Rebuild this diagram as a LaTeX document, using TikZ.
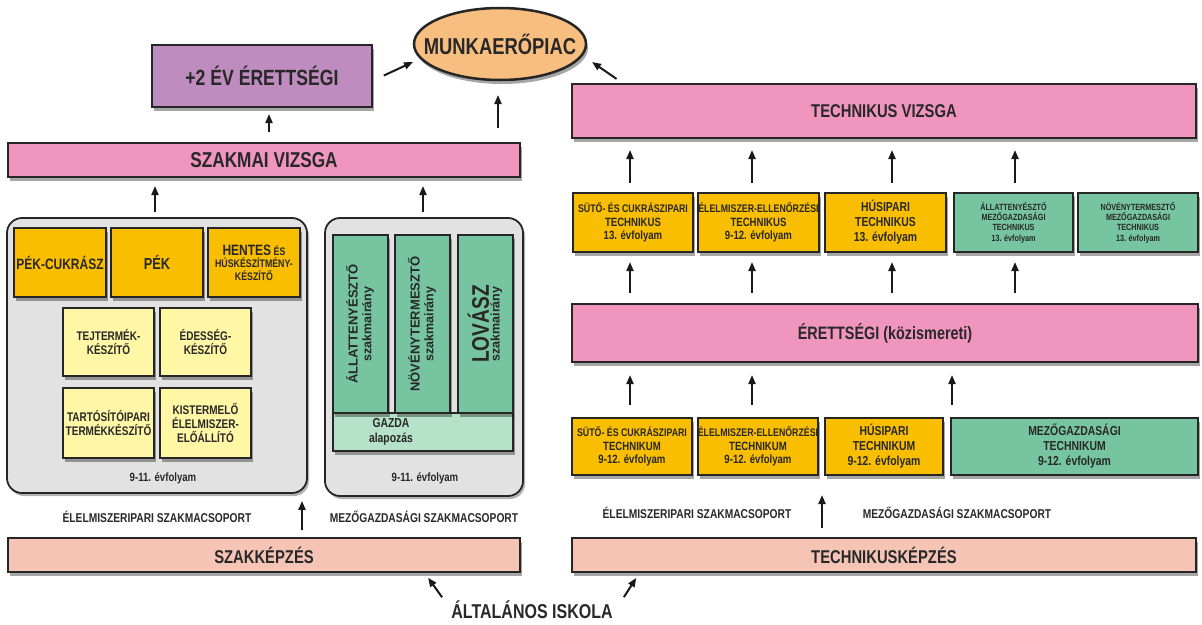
\documentclass[tikz,border=0pt]{standalone}
\usepackage{fontspec}
\usepackage{graphicx}
\setmainfont{Liberation Sans}[FakeStretch=0.8]
\newfontfamily\widef{Liberation Sans}
\usetikzlibrary{shadows,arrows.meta,shapes.geometric}
\definecolor{pinkc}{RGB}{240,150,190}
\definecolor{purplec}{RGB}{190,140,190}
\definecolor{orangec}{RGB}{248,190,128}
\definecolor{goldc}{RGB}{250,190,0}
\definecolor{lyellow}{RGB}{255,247,165}
\definecolor{greenc}{RGB}{118,196,160}
\definecolor{lgreen}{RGB}{182,226,202}
\definecolor{groupgray}{RGB}{226,226,226}
\definecolor{salmonc}{RGB}{245,196,180}
\definecolor{txt}{RGB}{40,40,40}
\newcommand\fs[1]{\fontsize{#1}{#1}\selectfont\baselineskip=1.15\baselineskip}
\newcommand\bxx[7]{\node[#1, minimum width={(#5-#3)*1pt}, minimum height={(#6-#4)*1pt}] (#2) at ({(#3+#5)/2},{(#4+#6)/2}) {#7};}
\tikzset{
  box/.style={draw=black!85, line width=2.5pt, align=center, inner sep=0pt, outer sep=0pt,
    text=txt, font=\bfseries,
    drop shadow={shadow xshift=2pt, shadow yshift=-4pt, fill=black, opacity=0.35}},
  grp/.style={draw=black!85, line width=1.8pt, rounded corners=15pt, fill=groupgray, inner sep=0pt,
    drop shadow={shadow xshift=2pt, shadow yshift=-3pt, fill=black, opacity=0.3}},
  arr/.style={line width=2pt, -{Triangle[length=9pt,width=7pt]}, black!90},
  lbl/.style={font=\bfseries, text=txt, inner sep=0pt, align=center}
}
\begin{document}
\begin{tikzpicture}[x=1pt,y=-1pt]
\useasboundingbox (0,0) rectangle (1202,624);
% top
\node[box, ellipse, fill=orangec, minimum width=172pt, minimum height=72pt, font=\bfseries\fs{23}] (munka) at (500,44) {\makebox[0pt]{MUNKAERŐPIAC}};
\bxx{box, fill=purplec, font=\bfseries\fs{22}}{plus2}{152}{45}{372}{107}{+2 ÉV ÉRETTSÉGI}
\bxx{box, fill=pinkc, font=\bfseries\fs{21.5}}{szakv}{8}{143}{520}{177}{SZAKMAI VIZSGA}
\bxx{box, fill=pinkc, font=\bfseries\fs{18.5}}{techv}{572}{84}{1196}{138}{TECHNIKUS VIZSGA}
\coordinate (mL) at (413,62);
\coordinate (mR) at (592,62);
% left group
\bxx{grp}{gleft}{7}{218}{307}{493}{}
\bxx{box, fill=goldc, font=\bfseries\fs{15}}{pekc}{14}{228}{106}{297}{PÉK-CUKRÁSZ}
\bxx{box, fill=goldc, font=\bfseries\fs{16}}{pek}{111}{228}{203}{297}{PÉK}
\bxx{box, fill=goldc, font=\bfseries\fs{11}}{hentes}{208}{228}{300}{297}{{\fs{15}HENTES} ÉS\\HÚSKÉSZÍTMÉNY-\\KÉSZÍTŐ}
\bxx{box, fill=lyellow, font=\bfseries\fs{12.5}}{tej}{63}{308}{154}{376}{TEJTERMÉK-\\KÉSZÍTŐ}
\bxx{box, fill=lyellow, font=\bfseries\fs{12.5}}{edes}{160}{308}{251}{376}{ÉDESSÉG-\\KÉSZÍTŐ}
\bxx{box, fill=lyellow, font=\bfseries\fs{12.5}}{tart}{63}{388}{154}{458}{TARTÓSÍTÓIPARI\\TERMÉKKÉSZÍTŐ}
\bxx{box, fill=lyellow, font=\bfseries\fs{12.5}}{kist}{160}{388}{251}{458}{KISTERMELŐ\\ÉLELMISZER-\\ELŐÁLLÍTÓ}
\node[lbl, font=\bfseries\fs{12}] (evl) at (163,478) {9-11. évfolyam};
% middle group
\bxx{grp}{gmid}{325}{218}{523}{496}{}
\bxx{box, fill=lgreen}{gazda}{333}{413}{513}{451}{}
\node[lbl, font=\bfseries\fs{13}] (gazdat) at (391,432) {GAZDA\\alapozás};
\bxx{box, fill=greenc}{allat}{333}{235}{388}{413}{\rotatebox{90}{\begin{tabular}{@{}c@{}}\widef\fs{13}ÁLLATTENYÉSZTŐ\\[1pt]\widef\fs{12.5}szakmairány\end{tabular}}}
\bxx{box, fill=greenc}{noveny}{395}{235}{450}{413}{\rotatebox{90}{\begin{tabular}{@{}c@{}}\widef\fs{13}NÖVÉNYTERMESZTŐ\\[1pt]\widef\fs{12.5}szakmairány\end{tabular}}}
\bxx{box, fill=greenc}{lovasz}{458}{235}{513}{413}{\rotatebox{90}{\begin{tabular}{@{}c@{}}\fs{24}LOVÁSZ\\[-2pt]\widef\fs{12.5}szakmairány\end{tabular}}}
\node[lbl, font=\bfseries\fs{12}] (evm) at (425,478) {9-11. évfolyam};
% group labels left
\node[lbl, font=\bfseries\fs{12.8}] (lel1) at (157,517) {ÉLELMISZERIPARI SZAKMACSOPORT};
\node[lbl, font=\bfseries\fs{12.8}] (lmez1) at (424,517) {MEZŐGAZDASÁGI SZAKMACSOPORT};
% bottom bars
\bxx{box, fill=salmonc, font=\bfseries\fs{18.5}}{szakk}{8}{538}{520}{572}{SZAKKÉPZÉS}
\bxx{box, fill=salmonc, font=\bfseries\fs{18.5}}{techk}{572}{538}{1196}{572}{TECHNIKUSKÉPZÉS}
\node[lbl, font=\bfseries\fs{20}] (alt) at (532,610) {ÁLTALÁNOS ISKOLA};
% right top row
\bxx{box, fill=goldc, font=\bfseries\fs{12}}{t1}{573}{193}{693}{252}{{\fs{11}SÜTŐ- ÉS CUKRÁSZIPARI}\\TECHNIKUS\\13. évfolyam}
\bxx{box, fill=goldc, font=\bfseries\fs{12}}{t2}{698}{193}{819}{252}{{\fs{11}ÉLELMISZER-ELLENŐRZÉSI}\\TECHNIKUS\\9-12. évfolyam}
\bxx{box, fill=goldc, font=\bfseries\fs{13}}{t3}{825}{193}{946}{252}{HÚSIPARI\\TECHNIKUS\\13. évfolyam}
\bxx{box, fill=greenc, font=\bfseries\fs{9}}{t4}{954}{193}{1073}{252}{ÁLLATTENYÉSZTŐ\\MEZŐGAZDASÁGI\\TECHNIKUS\\13. évfolyam}
\bxx{box, fill=greenc, font=\bfseries\fs{9}}{t5}{1078}{193}{1198}{252}{NÖVÉNYTERMESZTŐ\\MEZŐGAZDASÁGI\\TECHNIKUS\\13. évfolyam}
\bxx{box, fill=pinkc, font=\bfseries\fs{18}}{erett}{572}{304}{1198}{362}{ÉRETTSÉGI (közismereti)}
% right bottom row
\bxx{box, fill=goldc, font=\bfseries\fs{12}}{b1}{572}{418}{692}{475}{{\fs{11}SÜTŐ- ÉS CUKRÁSZIPARI}\\TECHNIKUM\\9-12. évfolyam}
\bxx{box, fill=goldc, font=\bfseries\fs{12}}{b2}{698}{418}{818}{475}{{\fs{11}ÉLELMISZER-ELLENŐRZÉSI}\\TECHNIKUM\\9-12. évfolyam}
\bxx{box, fill=goldc, font=\bfseries\fs{13}}{b3}{825}{418}{943}{475}{HÚSIPARI\\TECHNIKUM\\9-12. évfolyam}
\bxx{box, fill=greenc, font=\bfseries\fs{13}}{b4}{951}{418}{1198}{475}{MEZŐGAZDASÁGI\\TECHNIKUM\\9-12. évfolyam}
\node[lbl, font=\bfseries\fs{12.8}] (lel2) at (697,513) {ÉLELMISZERIPARI SZAKMACSOPORT};
\node[lbl, font=\bfseries\fs{12.8}] (lmez2) at (957,513) {MEZŐGAZDASÁGI SZAKMACSOPORT};
% arrows
\draw[arr, shorten <=11pt, shorten >=7pt] (szakv.north -| 269,0) -- (plus2.south -| 269,0);
\draw[arr, shorten <=15pt, shorten >=15pt] (szakv.north -| 498,0) -- (munka.south -| 498,0);
\draw[arr, shorten <=13pt] (plus2.east |- 0,81) -- (mL);
\draw[arr, shorten <=9pt] (techv.north -| 624,0) -- (mR);
\draw[arr, shorten <=5pt, shorten >=9pt] (gleft.north -| 155,0) -- (szakv.south -| 155,0);
\draw[arr, shorten <=5pt, shorten >=9pt] (gmid.north -| 423,0) -- (szakv.south -| 423,0);
\draw[arr, shorten <=8pt, shorten >=7pt] (szakk.north -| 302,0) -- (gleft.south -| 302,0);
\draw[arr, shorten <=10pt, shorten >=20pt] (techk.north -| 822,0) -- (b3.south -| 822,0);
\foreach \xx/\nn in {630/b1, 752/b2, 952/b4}
  \draw[arr, shorten <=13pt, shorten >=13pt] (\nn.north -| \xx,0) -- (erett.south -| \xx,0);
\foreach \xx/\nn in {630/t1, 752/t2, 892/t3, 1015/t4}{
  \draw[arr, shorten <=11pt, shorten >=10pt] (erett.north -| \xx,0) -- (\nn.south -| \xx,0);
  \draw[arr, shorten <=10pt, shorten >=12pt] (\nn.north -| \xx,0) -- (techv.south -| \xx,0);
}
\draw[arr, shorten <=2pt, shorten >=7pt] (alt.north west) ++(-8,-2) -- (szakk.south -| 424,0);
\draw[arr, shorten <=2pt, shorten >=7pt] (alt.north east) ++(10,-2) -- (techk.south -| 640,0);
\end{tikzpicture}
\end{document}
